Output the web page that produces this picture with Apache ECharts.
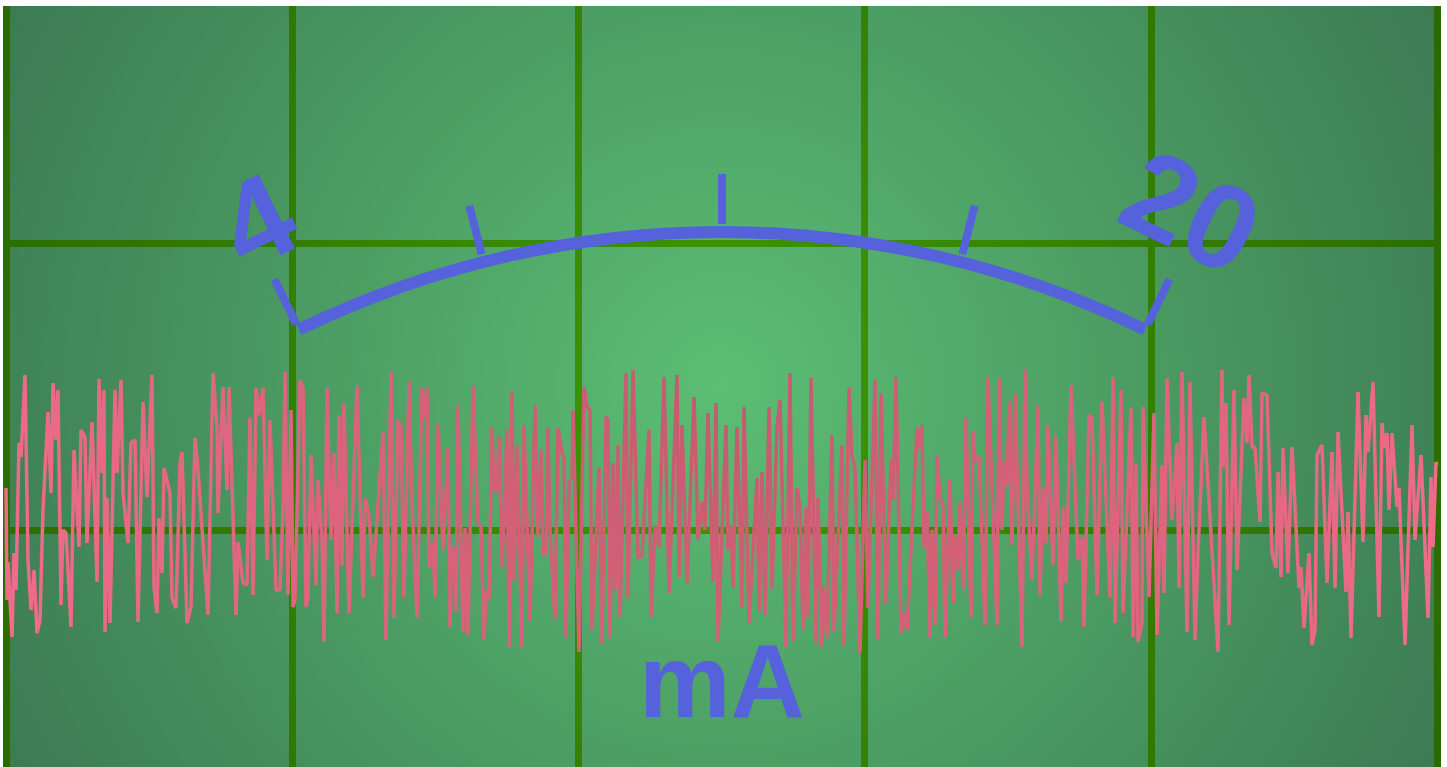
<!DOCTYPE html>
<html>
<head>
<meta charset="utf-8">
<title>mA</title>
<script src="https://cdn.jsdelivr.net/npm/echarts@6/dist/echarts.min.js"></script>
<style>
  html, body { margin: 0; padding: 0; background: #fff; }
  #chart { width: 1447px; height: 767px; }
</style>
</head>
<body>
<div id="chart"></div>
<script>
// gauge scale
const gaugeMin = 4
const gaugeMax = 20
const innerMin = 8
const innerMax = 16
const gaugeUnit = 'mA'

// trace, x = position along the grid, value = offset from the middle line
const traceX = [
  0, 1, 2, 6, 8, 10, 13, 15, 19, 22, 25, 27, 28, 31, 34, 37, 42, 45, 47, 50, 52, 55, 57, 60, 65, 68, 73, 75, 79, 81,
  86, 91, 93, 96, 98, 99, 101, 104, 109, 111, 115, 117, 122, 125, 129, 132, 137, 141, 146, 148, 151, 153, 156, 158, 164, 166, 170, 174, 176, 181,
  185, 189, 192, 202, 207, 211, 212, 217, 221, 223, 230, 232, 237, 241, 244, 247, 250, 253, 257, 261, 264, 267, 270, 274, 277, 279, 282, 285, 287,
  289, 294, 297, 300, 302, 305, 310, 312, 316, 318, 321, 325, 328, 331, 333, 336, 338, 343, 351, 357, 359, 363, 367, 369, 377, 380, 385, 388, 392, 395,
  398, 403, 406, 408, 411, 416, 418, 421, 423, 427, 429, 432, 437, 442, 444, 446, 449, 450, 452, 457, 459, 462, 467, 472, 475, 478, 480, 483, 486, 488,
  491, 493, 496, 501, 503, 506, 508, 511, 516, 518,
  524, 529, 532, 535, 537, 540, 542, 544, 549, 552, 556, 558, 560, 563, 566, 567, 573, 578, 581, 584, 586, 593, 595, 596, 600, 602, 604, 607, 609, 612,
  614, 620, 622, 627, 632, 636, 643, 645, 649, 651, 653, 658, 663, 671, 673, 676, 681, 688, 692, 696, 699, 702, 707, 710, 712, 720, 722, 725, 727, 731,
  733, 736, 738,
  743, 746, 748, 751, 753, 756, 759, 763, 766, 771, 774, 780, 782, 784, 787, 791, 794, 797, 800, 802, 805, 810, 812, 816, 818, 821, 823, 826, 828, 836,
  838, 843, 846, 849, 854, 859, 862, 869, 872, 875, 880, 885, 887, 890, 895, 897, 901, 911, 912, 916, 918, 921, 924, 926, 929, 931, 934, 937, 939, 944,
  947, 950, 952, 954, 957, 960, 965, 967,
  969, 973, 979, 982, 991, 993, 996, 998, 1001, 1003, 1006, 1009, 1011, 1016, 1019, 1021, 1026, 1032, 1034, 1037, 1040, 1042, 1047, 1050, 1055, 1057, 1060, 1065, 1072, 1076,
  1078, 1083, 1086, 1091, 1096, 1104, 1107, 1109, 1115, 1117, 1125, 1127, 1130, 1132, 1136, 1137, 1143, 1148, 1151, 1156, 1158, 1161, 1166, 1171, 1173, 1176, 1181, 1184, 1189, 1192,
  1198,
  1207, 1212, 1216, 1217, 1220, 1223, 1228, 1231, 1238, 1241, 1243, 1246, 1249, 1254, 1256, 1261, 1266, 1270, 1272, 1275, 1277, 1282, 1286, 1293, 1295, 1298, 1303, 1306, 1309, 1311,
  1316, 1321, 1326, 1329, 1332, 1340, 1342, 1345, 1352, 1357, 1360, 1362, 1367, 1373, 1376, 1378, 1381, 1383, 1386, 1391, 1393, 1399, 1406, 1409, 1415, 1422, 1425, 1427, 1430, 1431
]
const traceValue = [
  42, -70, -32, -107, -23, -60, 87, 73, 155, -30, -80, -57, -40, -103, -90, 20, 118, 37, 147, 90, 140, -75, 0, -3, -97, 80, -17, 100, 93, -13,
  108, -52, 151, 57, 140, -102, 32, -93, 140, 57, 150, 37, -13, 87, 90, -92, 128, 33, 155, -57, -83, 12, -43, 62, 37, -68, -78, 67, 78, -93,
  -77, 92, 60, -85, 157, 103, 17, 143, 40, 143, -85, -12, -53, -55, 112, -65, 142, 115, 142, -30, 110, 25, -60, -60, 20, 158, -65, 120, -77,
  -70, 150, 142, -77, -67, 75, -55, 50, -10, -112, 143, -10, 77, -83, 115, -35, 127, -83, 145, -68, 32, 15, -47, -45, 98, -110, 158, -88, 110, 103,
  -67, 148, 28, 27, -88, 143, 113, 143, -38, -12, -67, 107, -20, 82, -98, -17, -20, -82, 125, -102, 2, -105, 145, 7, 3, -110, -60, -70, 102, 42,
  38, 95, -38, 100, -117, 138, -52, 85, -117, 105,
  -92, 125, -8, 80, -25, -23, 103, 0, -90, 102, 77, 73, -107, 48, 52, 120, -122, 143, 123, 120, -100, 62, 63, -113, 113, 110, -107, 67, -60, 84,
  -88, 157, -67, 160, -28, -25, 100, -88, 5, 3, -17, 153, -63, 155, -47, 105, -53, 133, -10, 28, 0, 117, -52, 127, -112, 105, -20, 5, -58, 103,
  105, -78, 123,
  -93, -38, -37, 52, -82, 58, -85, 123, -60, 103, 130, -117, -118, 157, -112, 42, 23, -100, 22, -87, 152, -113, 32, -117, -57, -107, -105, 95, -102, 85,
  -115, 142, 73, 62, -123, 70, -78, 150, -110, 137, -73, 70, 30, 153, -103, -83, -100, 102, 80, 105, -18, 18, -107, 0, -95, 75, 33, 25, -108, 50,
  -73, -5, -40, 28, -60, 113, -88, 98,
  70, 73, -95, 152, -95, 152, 0, 68, 45, 128, -15, 137, 135, -117, 160, 43, -50, 125, -65, 42, -13, 105, -35, 95, -92, 23, -53, 145, -30, -7,
  -97, 115, 112, -65, 128, -67, 153, -93, 140, -83, 122, -107, 67, -112, -93, 123, -67, 117, -105, 65, -63, 152, 10, 87, -58, 158, -102, 148, -110, -22,
  113,
  -37, -122, 160, 63, 127, -95, 140, -40, 132, 87, 155, 83, 82, 8, 137, 135, -23, -38, 58, -47, 82, -43, 83, -58, -37, -98, -23, -115, -100, 75,
  85, -53, 78, -58, 98, -62, 18, -108, 138, -12, 115, 78, 148, -87, 107, 82, 97, 20, 97, 23, 42, -115, 105, -10, 75, -88, 53, -17, 68, 65
]

const blue = '#5662db'
const labelFont = {
  color: blue,
  fontSize: 120,
  fontWeight: 'bold',
  fontFamily: 'Liberation Sans',
}

const chart = echarts.init(document.getElementById('chart'))

// grid lines get lighter towards the middle, same as the panel
const gridLineColor = new echarts.graphic.RadialGradient(722, 386, 780, [
  { offset: 0, color: '#3f9a00' },
  { offset: 1, color: '#2b6a00' },
], true)

// both gauges share the same circle
const gaugeBase = {
  type: 'gauge',
  center: [722, 1197],
  radius: 971,
  splitLine: {
    length: 50,
    distance: -62,
    lineStyle: { width: 8, color: blue },
  },
  axisTick: { show: false },
  pointer: { show: false },
  anchor: { show: false },
  detail: { show: false },
  z: 3,
}

chart.setOption({
  animation: false,
  backgroundColor: '#ffffff',
  grid: {
    show: true,
    left: 6,
    top: 6,
    width: 1431,
    // runs past the bottom edge so the lower line sits off screen
    height: 811,
    outerBoundsMode: 'none',
    borderWidth: 0,
    backgroundColor: new echarts.graphic.RadialGradient(722, 386, 810, [
      { offset: 0, color: '#5bbe74' },
      { offset: 1, color: '#3c7b52' },
    ], true),
  },
  xAxis: {
    type: 'value',
    min: 0,
    max: 1431,
    interval: 286.2,
    axisLine: { show: false },
    axisTick: { show: false },
    axisLabel: { show: false },
    splitLine: {
      show: true,
      showMinLine: true,
      showMaxLine: true,
      lineStyle: { width: 7, color: gridLineColor },
    },
  },
  yAxis: {
    type: 'value',
    min: -287,
    max: 524,
    interval: 287,
    axisLine: { show: false },
    axisTick: { show: false },
    axisLabel: { show: false },
    splitLine: {
      show: true,
      showMaxLine: false,
      lineStyle: { width: 7, color: gridLineColor },
    },
  },
  series: [
    {
      type: 'line',
      data: traceX.map((x, i) => [x, traceValue[i]]),
      symbol: 'none',
      lineStyle: {
        width: 3.5,
        color: new echarts.graphic.RadialGradient(722, 386, 760, [
          { offset: 0, color: '#c45a6e' },
          { offset: 1, color: '#f06c8a' },
        ], true),
      },
      z: 2,
    },
    {
      ...gaugeBase,
      startAngle: 116,
      endAngle: 64,
      min: gaugeMin,
      max: gaugeMax,
      splitNumber: 1,
      axisLine: {
        lineStyle: { width: 12, color: [[1, blue]] },
      },
      axisLabel: {
        distance: -90,
        rotate: 'tangential',
        ...labelFont,
        formatter: (v) => (v === gaugeMin ? '{lo|' + v + '}' : '{hi|' + v + '}'),
        rich: {
          lo: { ...labelFont, padding: [0, 0, 0, 20] },
          hi: { ...labelFont, padding: [0, 20, 20, 0] },
        },
      },
      title: {
        offsetCenter: [0, -508],
        color: blue,
        fontSize: 103,
        fontWeight: 'bold',
        fontFamily: 'Liberation Sans',
      },
      data: [{ value: 12, name: gaugeUnit }],
    },
    {
      ...gaugeBase,
      startAngle: 104.3,
      endAngle: 75.7,
      min: innerMin,
      max: innerMax,
      splitNumber: 2,
      axisLine: { show: false },
      axisLabel: { show: false },
      title: { show: false },
      data: [{ value: 12, name: '' }],
    },
  ],
})
</script>
</body>
</html>
